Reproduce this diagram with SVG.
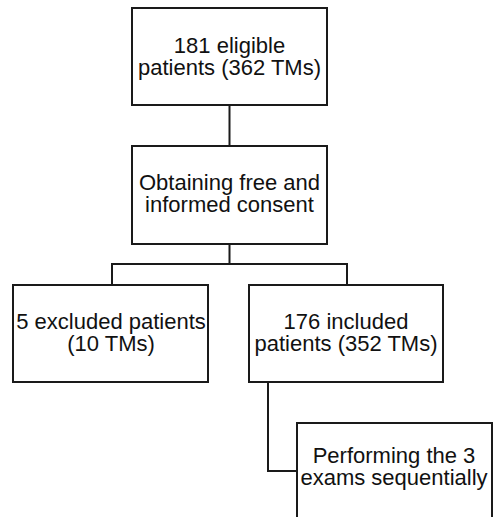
<svg xmlns="http://www.w3.org/2000/svg" width="493" height="517" viewBox="0 0 493 517">
<style>
.box{fill:#fff;stroke:#1a1a1a;stroke-width:2}
.con{fill:none;stroke:#1a1a1a;stroke-width:2}
text{font-family:"Liberation Sans",Arial,sans-serif;font-size:22px;fill:#111;text-anchor:middle}
</style>
<rect width="493" height="517" fill="#fff"/>
<g id="connectors">
<path class="con" d="M229.5,105 V146"/>
<path class="con" d="M229.5,244 V264 M112,285 V264 H347 V285"/>
<path class="con" d="M268,382 V471 H297"/>
</g>
<g id="n1">
<rect class="box" x="132" y="8" width="195" height="97"/>
<text x="229.5" y="53">181 eligible<tspan x="229.5" dy="22">patients (362 TMs)</tspan></text>
</g>
<g id="n2">
<rect class="box" x="132" y="146" width="195" height="98"/>
<text x="229.5" y="190">Obtaining free and<tspan x="229.5" dy="22">informed consent</tspan></text>
</g>
<g id="n3">
<rect class="box" x="13" y="285" width="195" height="97"/>
<text x="111" y="329">5 excluded patients<tspan x="111" dy="22">(10 TMs)</tspan></text>
</g>
<g id="n4">
<rect class="box" x="249" y="285" width="194" height="97"/>
<text x="346" y="329">176 included<tspan x="346" dy="22">patients (352 TMs)</tspan></text>
</g>
<g id="n5">
<rect class="box" x="297" y="423" width="195" height="110"/>
<text x="394" y="463">Performing the 3<tspan x="394" dy="22">exams sequentially</tspan></text>
</g>
</svg>
